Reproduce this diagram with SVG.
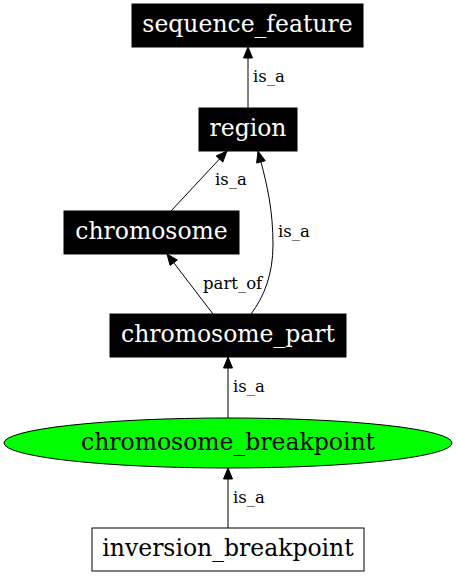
<svg xmlns="http://www.w3.org/2000/svg" width="456" height="576" viewBox="0 0 456 576">
<style>
.nb{fill:#000;stroke:#000;stroke-width:1}
.nt{font-family:"DejaVu Serif",serif;font-size:23.5px;text-anchor:middle}
.w{fill:#fff}
.k{fill:#000}
.e{fill:none;stroke:#000;stroke-width:1}
.ah{fill:#000;stroke:#000;stroke-width:1}
.el{font-family:"DejaVu Serif",serif;font-size:16.5px;fill:#000}
</style>
<rect width="456" height="576" fill="#fff"/>
<g id="connectors">
<path class="e" d="M248,108 L248,58"/>
<polygon class="ah" points="248,47 243.5,58 252.5,58"/>
<text class="el" x="253" y="82">is_a</text>
<path class="e" d="M171,211 L219.5,159"/>
<polygon class="ah" points="227,151 216.2,155.9 222.8,162.1"/>
<text class="el" x="215" y="185">is_a</text>
<path class="e" d="M213,314 L173.7,262.7"/>
<polygon class="ah" points="167,254 177.3,260 170.1,265.4"/>
<text class="el" x="203" y="289">part_of</text>
<path class="e" d="M251,314 C264,297 273,274 273,245 C273,210 267,185 261,162"/>
<polygon class="ah" points="258,151 265.2,160.7 256.6,163.1"/>
<text class="el" x="278" y="237">is_a</text>
<path class="e" d="M228,418 L228,368"/>
<polygon class="ah" points="228,357 223.5,368 232.5,368"/>
<text class="el" x="233" y="392">is_a</text>
<path class="e" d="M228,528 L228,479"/>
<polygon class="ah" points="228,468 223.5,479 232.5,479"/>
<text class="el" x="233" y="503">is_a</text>
</g>
<g id="sequence_feature">
<rect class="nb" x="132" y="4" width="231" height="43"/>
<text class="nt w" x="247.5" y="32">sequence_feature</text>
</g>
<g id="region">
<rect class="nb" x="199" y="108" width="98" height="43"/>
<text class="nt w" x="248" y="136">region</text>
</g>
<g id="chromosome">
<rect class="nb" x="64" y="211" width="175" height="43"/>
<text class="nt w" x="151.5" y="239">chromosome</text>
</g>
<g id="chromosome_part">
<rect class="nb" x="110" y="314" width="236" height="43"/>
<text class="nt w" x="228" y="342">chromosome_part</text>
</g>
<g id="chromosome_breakpoint">
<ellipse cx="228" cy="443" rx="224" ry="25" fill="#00ff00" stroke="#000" stroke-width="1"/>
<text class="nt k" x="228" y="449.5">chromosome_breakpoint</text>
</g>
<g id="inversion_breakpoint">
<rect x="92" y="528" width="272" height="43" fill="#fff" stroke="#000" stroke-width="1"/>
<text class="nt k" x="228" y="556">inversion_breakpoint</text>
</g>
</svg>
